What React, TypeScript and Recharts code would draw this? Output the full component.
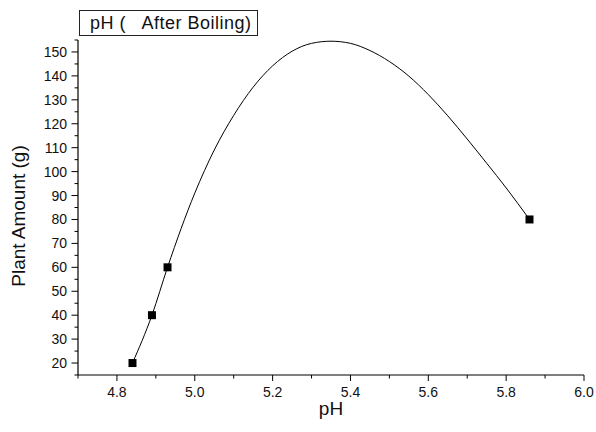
import {
  ComposedChart,
  Line,
  Scatter,
  XAxis,
  YAxis,
} from "recharts";

// measured points (pH vs plant amount)
const phValues = [4.84, 4.89, 4.93, 5.86];
const amounts = [20, 40, 60, 80];

const curvePh = [
  4.84, 4.89, 4.93, 5.0, 5.05, 5.1, 5.15, 5.2, 5.25, 5.3, 5.35,
  5.4, 5.45, 5.5, 5.55, 5.6, 5.65, 5.7, 5.75, 5.8, 5.86,
];
const curveAmount = [
  20, 40, 60, 91, 109, 123.5, 135.3, 144.2, 150.3, 153.6, 154.5,
  153.6, 150.6, 146, 139.9, 132.2, 123.3, 113.6, 103.5, 93.2, 80,
];

const xTicks = [4.7, 4.8, 4.9, 5.0, 5.1, 5.2, 5.3, 5.4, 5.5, 5.6, 5.7, 5.8, 5.9, 6.0];
const yTicks = [
  15, 20, 25, 30, 35, 40, 45, 50, 55, 60, 65, 70, 75, 80, 85, 90, 95, 100,
  105, 110, 115, 120, 125, 130, 135, 140, 145, 150, 155,
];

const points = phValues.map((x, i) => ({ x, y: amounts[i] }));
const curve = curvePh.map((x, i) => ({ x, y: curveAmount[i] }));

const font = "Arial, 'Liberation Sans', sans-serif";

const XTick = ({ x, y, payload }: any) => {
  const v = payload.value;
  const major = Math.round(v * 10) % 2 === 0 && v > 4.75;
  return (
    <g>
      <line x1={x} y1={y} x2={x} y2={y + (major ? 6 : 3.5)} stroke="#000" strokeWidth={1} />
      {major && (
        <text x={x} y={y + 22} textAnchor="middle" fontSize={14} fontFamily={font} fill="#111">
          {v.toFixed(1)}
        </text>
      )}
    </g>
  );
};

const YTick = ({ x, y, payload }: any) => {
  const v = payload.value;
  const major = v % 10 === 0 && v >= 20 && v <= 150;
  return (
    <g>
      <line x1={x} y1={y} x2={x - (major ? 6.5 : 3.5)} y2={y} stroke="#000" strokeWidth={1} />
      {major && (
        <text x={x - 11} y={y + 5} textAnchor="end" fontSize={14} fontFamily={font} fill="#111">
          {v}
        </text>
      )}
    </g>
  );
};

const XLabel = () => (
  <text x={331} y={415} textAnchor="middle" fontSize={19} fontFamily={font} fill="#111">
    pH
  </text>
);

const YLabel = () => (
  <text
    x={25}
    y={216}
    transform="rotate(-90, 25, 216)"
    textAnchor="middle"
    fontSize={19}
    fontFamily={font}
    fill="#111"
  >
    Plant Amount (g)
  </text>
);

export default function App() {
  return (
    <div style={{ position: "absolute", top: 0, left: 0, width: 596, height: 432, background: "#fff" }}>
      <ComposedChart width={596} height={432} margin={{ top: 40, right: 12, bottom: 27, left: 0 }}>
        <XAxis
          type="number"
          dataKey="x"
          domain={[4.7, 6.0]}
          ticks={xTicks}
          interval={0}
          height={30}
          tickSize={0}
          tickMargin={0}
          tickLine={false}
          tick={<XTick />}
          axisLine={{ stroke: "#000", strokeWidth: 1.2 }}
          allowDataOverflow
          label={<XLabel />}
        />
        <YAxis
          type="number"
          dataKey="y"
          domain={[15, 155]}
          ticks={yTicks}
          interval={0}
          width={78}
          tickSize={0}
          tickMargin={0}
          tickLine={false}
          tick={<YTick />}
          axisLine={{ stroke: "#000", strokeWidth: 1.2 }}
          allowDataOverflow
          label={<YLabel />}
        />
        <Line
          data={curve}
          dataKey="y"
          type="monotone"
          stroke="#000"
          strokeWidth={1}
          dot={false}
          activeDot={false}
          isAnimationActive={false}
        />
        <Scatter data={points} dataKey="y" fill="#000" shape="square" isAnimationActive={false} />
      </ComposedChart>
      <div
        style={{
          position: "absolute",
          left: 79,
          top: 10,
          width: 179,
          height: 26,
          border: "1px solid #222",
          fontFamily: font,
          fontSize: 18,
          letterSpacing: 0.5,
          lineHeight: "25px",
          paddingLeft: 10,
          boxSizing: "border-box",
          color: "#111",
          whiteSpace: "pre",
          background: "#fff",
        }}
      >
        {"pH (   After Boiling)"}
      </div>
    </div>
  );
}
